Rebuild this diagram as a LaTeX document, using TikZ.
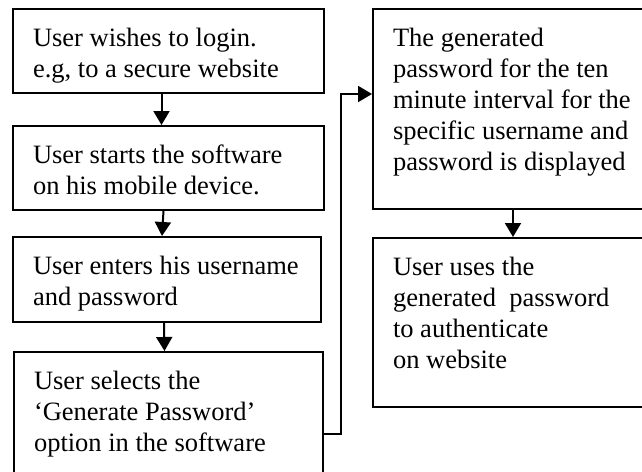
\documentclass[tikz,border=0pt]{standalone}
\usepackage{fontspec}
\setmainfont{Liberation Serif}
\usetikzlibrary{positioning,arrows.meta}

\tikzset{
  stepbox/.style={draw, line width=2pt, anchor=north west, inner sep=0pt, inner xsep=20pt,
    align=flush left, text height=37pt, font=\fontsize{26.5}{31}\selectfont},
  arr/.style={line width=2pt, -{Triangle[length=14pt,width=16pt]}}
}

\begin{document}
\begin{tikzpicture}[x=1pt,y=-1pt]
\useasboundingbox (0,0) rectangle (642,471);
\clip (0,0) rectangle (642,471);

\node[stepbox, text width=271pt, text depth=47pt] (login) at (12,8)
  {User wishes to login.\\e.g, to a secure website};
\node[stepbox, text width=271pt, text depth=47pt] (start) at (12,125)
  {User starts the software\\on his mobile device.};
\node[stepbox, text width=268pt, text depth=48pt] (enter) at (12,236)
  {User enters his username\\and password};
\node[stepbox, text width=269pt, text depth=163pt] (select) at (13,351)
  {User selects the\\‘Generate Password’\\option in the software};
\node[stepbox, text width=260pt, text depth=163pt] (shown) at (372,8)
  {The generated\\password for the ten\\minute interval for the\\specific username and\\password is displayed};
\node[stepbox, text width=260pt, text depth=132pt] (use) at (372,237)
  {User uses the\\generated\ \ password\\to authenticate\\on website};

\draw[arr] ([xshift=-7pt]login.south) -- ([xshift=-7pt]start.north);
\draw[arr] ([xshift=-5pt]start.south) -- ([xshift=-5pt]enter.north);
\draw[arr] ([xshift=-3pt]enter.south) -- ([xshift=-4pt]select.north);
\draw[arr] ([yshift=-83pt]select.north east) -- ++(17,0) |- ([yshift=-86pt]shown.north west);
\draw[arr] ([xshift=141pt]shown.south west) -- ([xshift=141pt]use.north west);
\end{tikzpicture}
\end{document}
